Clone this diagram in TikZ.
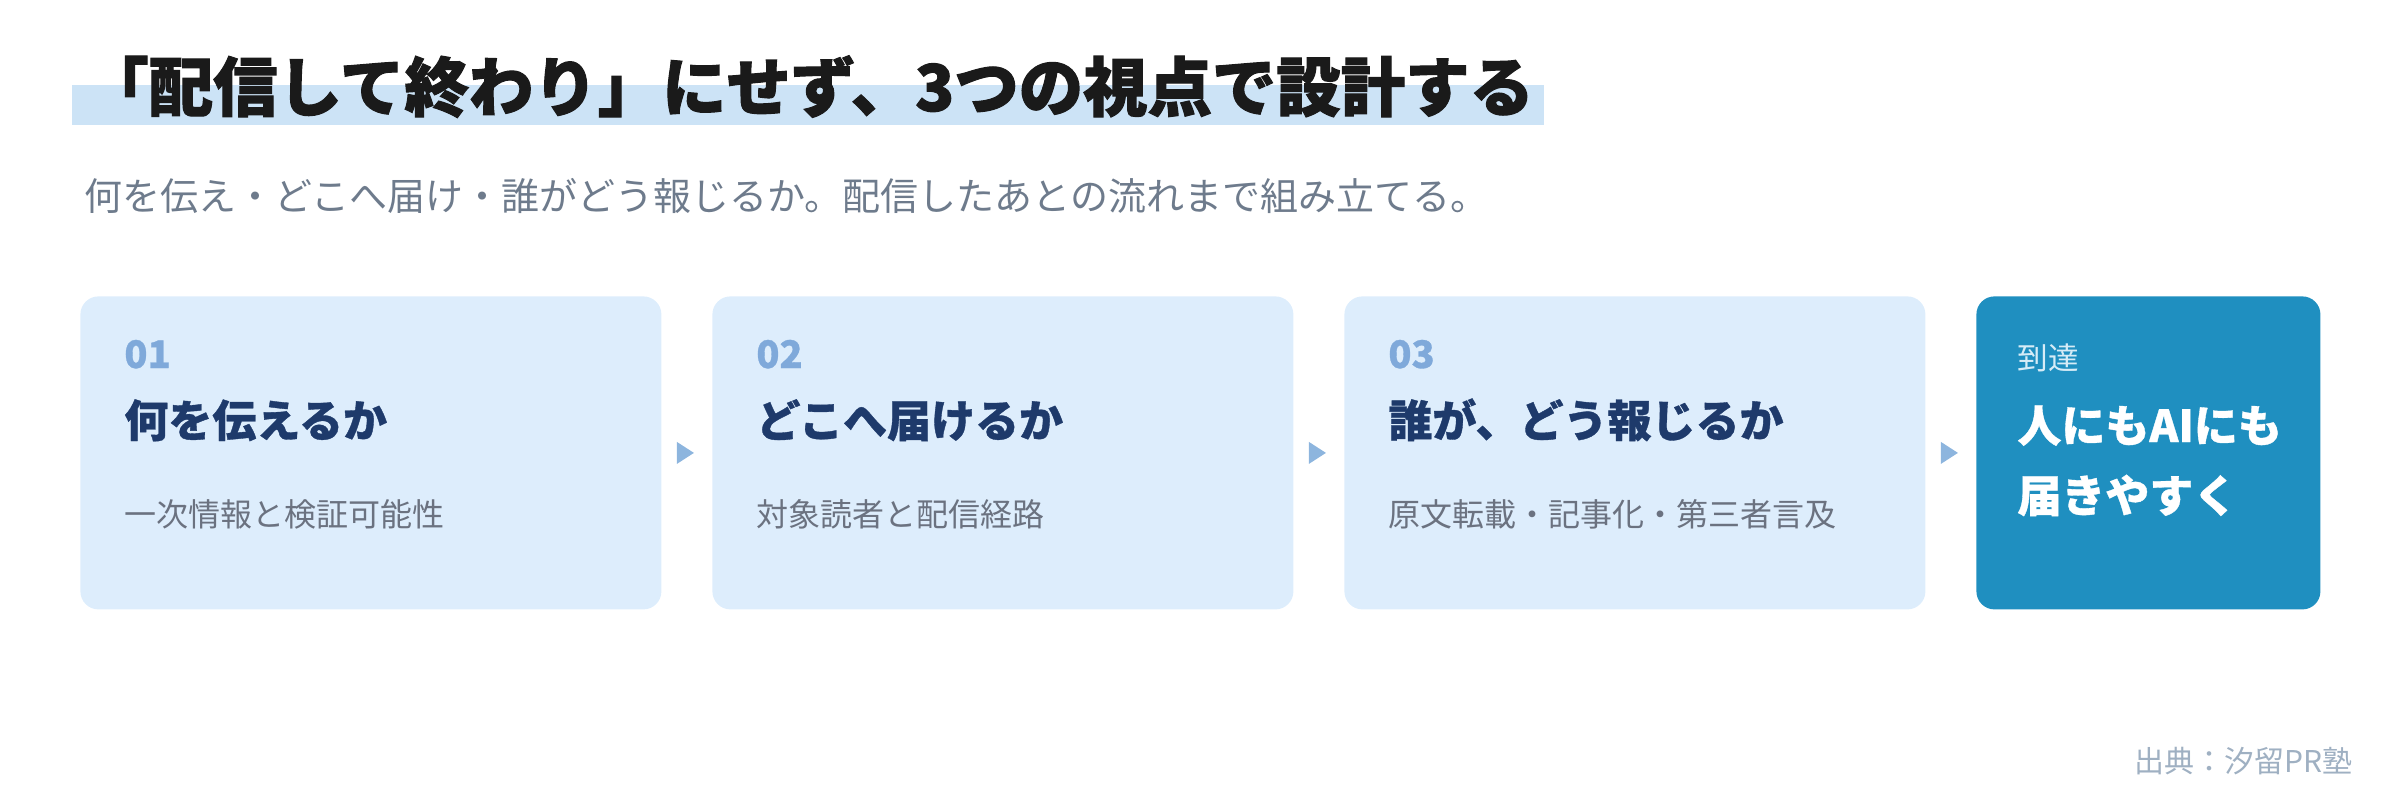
\documentclass[tikz,border=0pt]{standalone}
\usepackage{fontspec}
\setmainfont{Noto Sans CJK JP}
\newfontfamily\heavy{Noto Sans CJK JP}[BoldFeatures={FakeBold=1.6}]
\newfontfamily\semiheavy{Noto Sans CJK JP}[BoldFeatures={FakeBold=0.8}]
\usetikzlibrary{shapes.geometric}

\definecolor{ink}{HTML}{1A1A1A}
\definecolor{hilite}{HTML}{CCE3F6}
\definecolor{subgray}{HTML}{6E7B8C}
\definecolor{boxbg}{HTML}{DDEDFC}
\definecolor{numblue}{HTML}{7FA9DA}
\definecolor{navy}{HTML}{1E3A6B}
\definecolor{textgray}{HTML}{6B7280}
\definecolor{goalblue}{HTML}{1F8FC0}
\definecolor{goalpale}{HTML}{D6ECF7}
\definecolor{tipblue}{HTML}{8DB5DE}
\definecolor{srcgray}{HTML}{9FB0C2}

\begin{document}
\begin{tikzpicture}[x=0.5pt, y=-0.5pt,
    box/.style={rectangle, rounded corners=9pt, fill=boxbg, minimum width=290.5pt, minimum height=156.5pt, inner sep=0pt, anchor=north west},
    goal/.style={box, fill=goalblue, minimum width=172pt},
    num/.style={anchor=base west, inner sep=0pt, text=numblue, font=\fontsize{19pt}{22pt}\selectfont\semiheavy\bfseries},
    head/.style={anchor=base west, inner sep=0pt, text=navy, font=\fontsize{22pt}{26pt}\selectfont\semiheavy\bfseries},
    note/.style={anchor=base west, inner sep=0pt, text=textgray, font=\fontsize{16pt}{19pt}\selectfont},
    tip/.style={isosceles triangle, isosceles triangle stretches, shape border rotate=0, fill=tipblue, minimum width=11pt, minimum height=8.5pt, inner sep=0pt}]
    \useasboundingbox (0, 0) rectangle (2400, 804);

    % title
    \node (hl) at (72, 85) [rectangle, fill=hilite, anchor=north west, minimum width=736pt, minimum height=20pt, inner sep=0pt] {};
    \node (title) at (84, 111) [anchor=base west, inner sep=0pt, text=ink, font=\fontsize{32.2pt}{38pt}\selectfont\heavy\bfseries] {「配信して終わり」にせず、3つの視点で設計する};
    \node (lead) at (84, 210) [anchor=base west, inner sep=0pt, text=subgray, font=\fontsize{19pt}{22pt}\selectfont] {何を伝え・どこへ届け・誰がどう報じるか。配信したあとの流れまで組み立てる。};

    % steps
    \node (b1) at (80, 296) [box] {};
    \node (b2) at (712, 296) [box] {};
    \node (b3) at (1344, 296) [box] {};
    \node (b4) at (1976, 296) [goal] {};

    \node (n1) at (124, 368) [num] {01};
    \node (n2) at (756, 368) [num] {02};
    \node (n3) at (1388, 368) [num] {03};

    \node (h1) at (124, 437) [head] {何を伝えるか};
    \node (h2) at (756, 437) [head] {どこへ届けるか};
    \node (h3) at (1388, 437) [head] {誰が、どう報じるか};

    \node (t1) at (124, 526) [note] {一次情報と検証可能性};
    \node (t2) at (756, 526) [note] {対象読者と配信経路};
    \node (t3) at (1388, 526) [note] {原文転載・記事化・第三者言及};

    \node (g1) at (2017, 369) [anchor=base west, inner sep=0pt, text=goalpale, font=\fontsize{15.3pt}{18pt}\selectfont] {到達};
    \node (g2) at (2017, 512) [anchor=base west, inner sep=0pt, align=left, text=white, font=\fontsize{22pt}{35pt}\selectfont\semiheavy\bfseries] {人にもAIにも\\届きやすく};

    % arrows
    \path (b1.east) -- (b2.west) node[tip, midway, xshift=-2pt] (a1) {};
    \path (b2.east) -- (b3.west) node[tip, midway, xshift=-2pt] (a2) {};
    \path (b3.east) -- (b4.west) node[tip, midway, xshift=-2pt] (a3) {};

    \node (src) at (2353, 772) [anchor=base east, inner sep=0pt, text=srcgray, font=\fontsize{15pt}{18pt}\selectfont] {出典：汐留PR塾};
\end{tikzpicture}
\end{document}
